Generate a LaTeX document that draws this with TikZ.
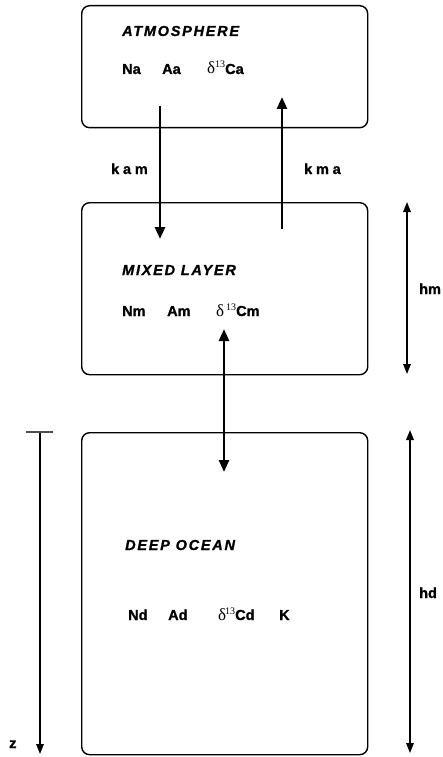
\documentclass[tikz,border=0pt]{standalone}
\usepackage{fontspec}
\setmainfont{Liberation Sans}
\newfontfamily\serfont{Liberation Serif}
\usetikzlibrary{arrows.meta}
\newcommand{\dlt}[2]{{\serfont\mdseries\fontsize{17}{17}\selectfont δ}\hspace{#2}\raisebox{6pt}{\serfont\mdseries\fontsize{10}{10}\selectfont 13}C#1}
\tikzset{
  box/.style={draw, line width=1.4pt, rounded corners=8pt, minimum width=286pt, anchor=north west, inner sep=0},
  flux/.style={line width=2.6pt, -{Triangle[length=12pt,width=10pt]}},
  fluxb/.style={line width=2.6pt, {Triangle[length=12pt,width=10pt]}-{Triangle[length=12pt,width=10pt]}},
  dimarr/.style={line width=1.5pt, {Triangle[length=10pt,width=7.5pt]}-{Triangle[length=10pt,width=7.5pt]}},
  zarr/.style={line width=1.5pt, -{Triangle[length=10pt,width=7.5pt]}},
  lbl/.style={font=\fontsize{14.5}{16}\selectfont\bfseries\addfontfeature{FakeBold=1.2}, inner sep=0, anchor=base west},
  ttl/.style={font=\fontsize{14.5}{16}\selectfont\bfseries\itshape\addfontfeature{LetterSpace=12,FakeBold=1.2}, inner sep=0, anchor=base west},
  spaced/.style={font=\fontsize{14.5}{16}\selectfont\bfseries\addfontfeature{LetterSpace=26,FakeBold=1.2}, inner sep=0, anchor=base west}
}
\begin{document}
\begin{tikzpicture}[x=1pt,y=-1pt]
\useasboundingbox (0,0) rectangle (443,757);
% boxes
\node (atm) [box, minimum height=122pt] at (81,5) {};
\node (mix) [box, minimum height=172pt] at (81,202) {};
\node (deep) [box, minimum height=322pt] at (81,432) {};
% atmosphere text
\node (atmT) [ttl] at (122,36) {ATMOSPHERE};
\node (na) [lbl] at (122,74) {Na};
\node (aa) [lbl] at (162,74) {Aa};
\node (dca) [lbl] at (207,74) {\dlt{a}{0pt}};
% mixed text
\node (mixT) [ttl] at (122,275) {MIXED LAYER};
\node (nm) [lbl] at (122,316) {Nm};
\node (am) [lbl] at (167,316) {Am};
\node (dcm) [lbl] at (216,316) {\dlt{m}{2pt}};
% deep text
\node (deepT) [ttl] at (125,550) {DEEP OCEAN};
\node (nd) [lbl] at (128,620) {Nd};
\node (ad) [lbl] at (168,620) {Ad};
\node (dcd) [lbl] at (218,620) {\dlt{d}{-1pt}};
\node (kk) [lbl] at (279,620) {K};
% flux labels
\node (kam) [spaced] at (111,174) {kam};
\node (kma) [spaced] at (304,174) {kma};
\node (hm) [lbl] at (419,294) {hm};
\node (hd) [lbl] at (419,598) {hd};
\node (z) [lbl] at (9,748) {z};
% connectors
\coordinate (kamS) at (160,106); \coordinate (kamE) at (160,239);
\coordinate (kmaS) at (282,229); \coordinate (kmaE) at (282,97);
\coordinate (mdA) at (224,329); \coordinate (mdB) at (224,472);
\coordinate (hmA) at (407,202); \coordinate (hmB) at (407,374);
\coordinate (hdA) at (410,430); \coordinate (hdB) at (410,753);
\coordinate (zA) at (40,432); \coordinate (zB) at (40,754);
\coordinate (zL) at (26,432); \coordinate (zR) at (53,432);
\draw[flux] (kamS) -- (kamE);
\draw[flux] (kmaS) -- (kmaE);
\draw[fluxb] (mdA) -- (mdB);
\draw[dimarr] (hmA) -- (hmB);
\draw[dimarr] (hdA) -- (hdB);
\draw[zarr] (zA) -- (zB);
\draw[line width=1.2pt, black!70] (zL) -- (zR);
\end{tikzpicture}
\end{document}
